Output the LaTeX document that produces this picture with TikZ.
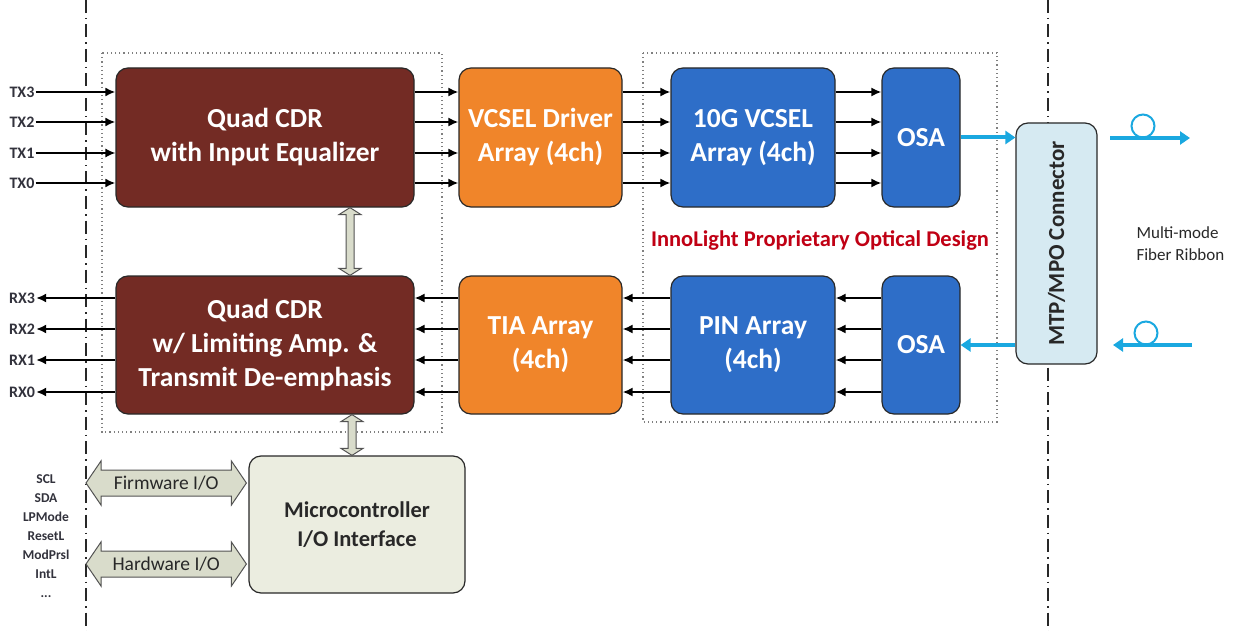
\documentclass[tikz,border=0pt]{standalone}
\usepackage{fontspec}
\setmainfont{Carlito}
\usetikzlibrary{arrows.meta,calc}
\definecolor{cdrbrown}{RGB}{115,43,36}
\definecolor{drvorange}{RGB}{240,133,42}
\definecolor{optblue}{RGB}{46,110,200}
\definecolor{connblue}{RGB}{214,234,242}
\definecolor{mcubeige}{RGB}{235,237,224}
\definecolor{innored}{RGB}{192,0,20}
\definecolor{fibercyan}{RGB}{26,168,224}
\definecolor{outl}{RGB}{40,40,40}
\definecolor{lbl}{RGB}{50,50,60}
\definecolor{barrfill}{RGB}{217,220,203}
\begin{document}
\begin{tikzpicture}[x=1pt,y=-1pt,
  blk/.style={rounded corners=12pt, draw=outl, line width=1.2pt, align=center,
    font=\fontsize{27.5}{34}\selectfont\bfseries, text=white, inner sep=0pt},
  sig/.style={line width=1.8pt, -{Latex[length=10pt,width=9pt]}},
  fib/.style={line width=4pt, fibercyan, -{Triangle[length=10pt,width=13pt]}},
  pinlbl/.style={font=\fontsize{16}{19}\selectfont\bfseries, text=lbl, inner sep=1pt},
  axisline/.style={line width=1.5pt, outl, dash pattern=on 13pt off 5pt on 1.5pt off 5pt},
  dotbox/.style={line width=1.2pt, gray, dash pattern=on 1.2pt off 3pt},
  barr/.style={fill=barrfill, draw=outl!80, line width=1pt, line join=miter}
]
\useasboundingbox (0,0) rectangle (1244,631);

% axis lines
\draw[axisline] (86,0) -- (86,631);
\draw[axisline] (1048,0) -- (1048,631);

% dotted groups
\draw[dotbox] (102,53) rectangle (442,432);
\draw[dotbox] (643,53) rectangle (997,422);

% blocks
\node[blk, fill=cdrbrown, minimum width=298pt, minimum height=139pt] (cdrtx) at (265,137.5) {Quad CDR\\with Input Equalizer};
\node[blk, fill=cdrbrown, minimum width=298pt, minimum height=138pt] (cdrrx) at (265,345) {Quad CDR\\w/ Limiting Amp. \&\\Transmit De-emphasis};
\node[blk, fill=drvorange, minimum width=163pt, minimum height=139pt] (drv) at (540.5,137.5) {VCSEL Driver\\Array (4ch)};
\node[blk, fill=drvorange, minimum width=163pt, minimum height=138pt] (tia) at (540.5,345) {TIA Array\\(4ch)};
\node[blk, fill=optblue, minimum width=164pt, minimum height=139pt] (vcsel) at (753,137.5) {10G VCSEL\\Array (4ch)};
\node[blk, fill=optblue, minimum width=164pt, minimum height=138pt] (pin) at (753,345) {PIN Array\\(4ch)};
\node[blk, fill=optblue, minimum width=78pt, minimum height=139pt] (osat) at (921,137.5) {OSA};
\node[blk, fill=optblue, minimum width=78pt, minimum height=138pt] (osab) at (921,345) {OSA};
\node[blk, fill=connblue, minimum width=81pt, minimum height=241pt] (conn) at (1056.5,243.5) {};
\node[rotate=90, font=\fontsize{23}{27}\selectfont\bfseries, text=outl] (connlbl) at (conn.center) {MTP/MPO Connector};
\node[blk, fill=mcubeige, text=outl, minimum width=216pt, minimum height=137pt, font=\fontsize{22.5}{29}\selectfont\bfseries] (mcu) at (357,524.5) {Microcontroller\\I/O Interface};

% TX inputs
\foreach \n/\y/\w in {3/92/2.2, 2/122/2.2, 1/153/1.3, 0/183/2.2}{
  \node[pinlbl] (ltx\n) at (22,\y) {TX\n};
  \draw[sig, line width=\w pt] (ltx\n.east) -- (ltx\n -| cdrtx.west);
}
% RX outputs
\foreach \n/\y in {3/298, 2/329, 1/360, 0/392}{
  \node[pinlbl] (lrx\n) at (22,\y) {RX\n};
  \draw[sig] (lrx\n -| cdrrx.west) -- (lrx\n.east);
}

% TX path signals
\foreach \d in {45.5,15.5,-15.5,-45.5}{
  \draw[sig] ([yshift=\d pt]cdrtx.east) -- ([yshift=\d pt]drv.west);
  \draw[sig] ([yshift=\d pt]drv.east) -- ([yshift=\d pt]vcsel.west);
  \draw[sig] ([yshift=\d pt]vcsel.east) -- ([yshift=\d pt]osat.west);
}
% RX path signals
\foreach \d in {47,16,-15,-47}{
  \draw[sig] ([yshift=\d pt]tia.west) -- ([yshift=\d pt]cdrrx.east);
  \draw[sig] ([yshift=\d pt]pin.west) -- ([yshift=\d pt]tia.east);
  \draw[sig] ([yshift=\d pt]osab.west) -- ([yshift=\d pt]pin.east);
}

% optical
\draw[fib] (osat.east) -- (osat.east -| conn.west);
\draw[fib] (osab.east -| conn.west) -- (osab.east);

% fibers
\coordinate (f1a) at (1110,138);
\coordinate (f1b) at (1190,138);
\draw[fib] (f1a) -- (f1b);
\draw[fibercyan, line width=2pt] (1143,126) circle (11.5pt);
\coordinate (f2a) at (1192,345);
\coordinate (f2b) at (1113,345);
\draw[fib] (f2a) -- (f2b);
\draw[fibercyan, line width=2pt] (1146,333) circle (11.5pt);

\node[anchor=west, align=left, font=\fontsize{17}{22}\selectfont, text=outl] (fibtxt) at (1133,244) {Multi-mode\\Fiber Ribbon};

\node[font=\fontsize{22.5}{26}\selectfont\bfseries, text=innored] (inno) at (820,240) {InnoLight Proprietary Optical Design};

% vertical block arrows
\coordinate (va) at ([xshift=85pt]cdrtx.south);
\coordinate (vb) at ([xshift=85pt]cdrrx.north);
\draw[barr] (va) -- ++(11,7) -- ++(-7,0) -- ($(vb)+(4,-7)$) -- ++(7,0) -- (vb) -- ++(-11,-7) -- ++(7,0) -- ($(va)+(-4,7)$) -- ++(-7,0) -- cycle;
\coordinate (vc) at ([xshift=87pt]cdrrx.south);
\coordinate (vd) at (vc |- mcu.north);
\draw[barr] (vc) -- ++(11,7) -- ++(-7,0) -- ($(vd)+(4,-7)$) -- ++(7,0) -- (vd) -- ++(-11,-7) -- ++(7,0) -- ($(vc)+(-4,7)$) -- ++(-7,0) -- cycle;

% horizontal block arrows
\coordinate (fwa) at (86,483);
\coordinate (fwb) at ([xshift=-2pt]fwa -| mcu.west);
\draw[barr] (fwa) -- ++(15,-22) -- ++(0,9) -- ($(fwb)+(-15,-13)$) -- ++(0,-9) -- (fwb) -- ++(-15,22) -- ++(0,-9) -- ($(fwa)+(15,13)$) -- ++(0,9) -- cycle;
\node[font=\fontsize{19.5}{22}\selectfont, text=outl] (fwt) at ($(fwa)!0.5!(fwb)$) {Firmware I/O};
\coordinate (hwa) at (86,564);
\coordinate (hwb) at ([xshift=-2pt]hwa -| mcu.west);
\draw[barr] (hwa) -- ++(15,-22) -- ++(0,9) -- ($(hwb)+(-15,-13)$) -- ++(0,-9) -- (hwb) -- ++(-15,22) -- ++(0,-9) -- ($(hwa)+(15,13)$) -- ++(0,9) -- cycle;
\node[font=\fontsize{19.5}{22}\selectfont, text=outl] (hwt) at ($(hwa)!0.5!(hwb)$) {Hardware I/O};

% management signals
\node[align=center, font=\fontsize{13.5}{19}\selectfont\bfseries, text=lbl] (mgmt) at (46,536) {SCL\\SDA\\LPMode\\ResetL\\ModPrsl\\IntL\\...};
\end{tikzpicture}
\end{document}
